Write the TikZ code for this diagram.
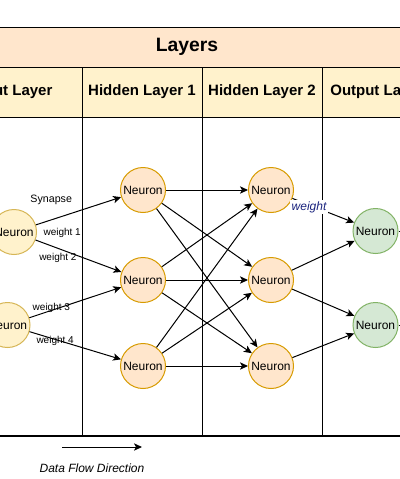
\documentclass[tikz,border=0pt]{standalone}
\usepackage{fontspec}
\setmainfont{Liberation Sans}
\usetikzlibrary{arrows.meta}

\definecolor{titlefill}{HTML}{FFE6CC}
\definecolor{headfill}{HTML}{FFF2CC}
\definecolor{infill}{HTML}{FFF2CC}
\definecolor{inborder}{HTML}{D6B656}
\definecolor{hidfill}{HTML}{FFE6CC}
\definecolor{hidborder}{HTML}{D79B00}
\definecolor{outfill}{HTML}{D5E8D4}
\definecolor{outborder}{HTML}{82B366}
\definecolor{weightblue}{HTML}{1A237E}

\tikzset{
  neuron/.style={circle, draw, line width=0.75pt, minimum size=33.75pt, inner sep=0pt,
    font=\fontsize{9}{10}\selectfont},
  inneuron/.style={neuron, draw=inborder, fill=infill},
  hidneuron/.style={neuron, draw=hidborder, fill=hidfill},
  outneuron/.style={neuron, draw=outborder, fill=outfill},
  titletext/.style={font=\fontsize{14.5}{16}\selectfont\bfseries},
  headtext/.style={font=\fontsize{11.25}{13}\selectfont\bfseries},
  wlabel/.style={font=\fontsize{7.5}{8}\selectfont, inner sep=1pt},
}

\begin{document}
\begin{tikzpicture}[x=0.75pt, y=-0.75pt, ->, line width=0.75pt,
    >={Stealth[length=6pt,width=5.5pt,inset=1.5pt]}]
  \useasboundingbox (0,0) rectangle (400,479);
  \clip (0,0) rectangle (400,479);

  % table of layers
  \begin{scope}[-]
    \fill[titlefill] (-68,27) rectangle (442,67);
    \fill[headfill] (-68,67) rectangle (442,117);
    \draw (-68,27) -- (442,27);
    \draw (-68,67) -- (442,67);
    \draw (-68,117) -- (442,117);
    \draw[line width=1.5pt] (-68,436) -- (442,436);
    \foreach \x in {82,202,322}
      \draw (\x,67) -- (\x,436);
  \end{scope}

  \node[titletext] (title)   at (187,47) {Layers};
  \node[headtext]  (inhead)  at (12,92)  {Input Layer};
  \node[headtext]  (h1head)  at (142,92) {Hidden Layer 1};
  \node[headtext]  (h2head)  at (262,92) {Hidden Layer 2};
  \node[headtext]  (outhead) at (377,92) {Output Layer};

  % neurons
  \node[inneuron]  (in1)  at (14,232)    {Neuron};
  \node[inneuron]  (in2)  at (7.5,325)   {Neuron};
  \node[hidneuron] (h11)  at (143,190)   {Neuron};
  \node[hidneuron] (h12)  at (143,280)   {Neuron};
  \node[hidneuron] (h13)  at (143,366)   {Neuron};
  \node[hidneuron] (h21)  at (271,190)   {Neuron};
  \node[hidneuron] (h22)  at (271,280)   {Neuron};
  \node[hidneuron] (h23)  at (271,366)   {Neuron};
  \node[outneuron] (out1) at (375.5,231) {Neuron};
  \node[outneuron] (out2) at (375.5,325) {Neuron};

  \coordinate (out1end) at (440,231);
  \coordinate (out2end) at (440,325);

  \path
    (in1) edge node[wlabel, font=\fontsize{8}{9}\selectfont, pos=.18, yshift=15pt] {Synapse} (h11)
          edge node[wlabel, pos=.31, yshift=12.6pt] {weight 1}
               node[wlabel, pos=.26, yshift=-7.3pt] {weight 2} (h12)
    (in2) edge node[wlabel, pos=.24, yshift=2pt] {weight 3} (h12)
          edge node[wlabel, pos=.28, yshift=-1.2pt] {weight 4} (h13)
    (h11) edge (h21)
          edge (h22)
          edge (h23)
    (h12) edge (h21)
          edge (h22)
          edge (h23)
    (h13) edge (h21)
          edge (h22)
          edge (h23)
    (h21) edge node[fill=white, inner sep=1pt, text=weightblue, pos=.27, yshift=-1.5pt,
                    font=\fontsize{9}{10}\selectfont\itshape] {weight} (out1)
    (h22) edge (out1)
          edge (out2)
    (h23) edge (out2);

  \draw[-] (out1) -- (out1end);
  \draw[-] (out2) -- (out2end);

  % data flow
  \coordinate (flowstart) at (62,447);
  \coordinate (flowend)   at (142,447);
  \draw (flowstart) -- (flowend);
  \node[font=\fontsize{9}{10}\selectfont\itshape] (flowlabel) at (92,468) {Data Flow Direction};
\end{tikzpicture}
\end{document}
